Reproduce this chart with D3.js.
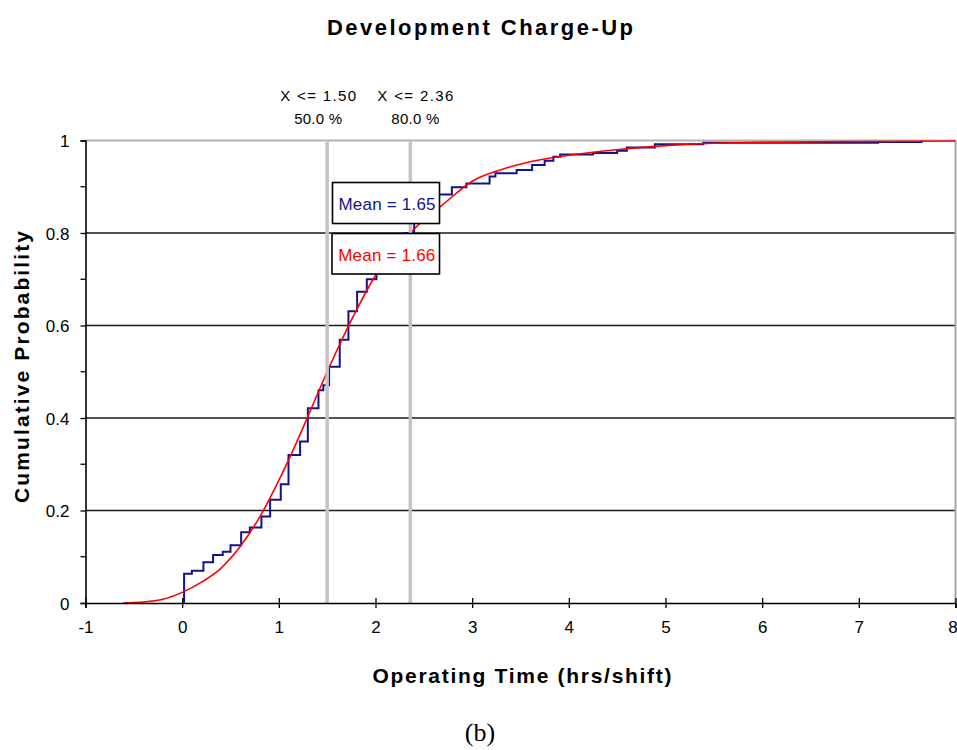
<!DOCTYPE html>
<html>
<head>
<meta charset="utf-8">
<script src="https://cdn.jsdelivr.net/npm/d3@7"></script>
<style>
  html, body { margin: 0; padding: 0; background: #fff; }
  svg { display: block; }
  text { font-family: "Liberation Sans", Arial, sans-serif; }
  text.caption { font-family: "Liberation Serif", "Times New Roman", serif; }
</style>
</head>
<body>
<svg id="chart" width="957" height="750"></svg>
<script>
// ---------------- data ----------------
const chartTitle = "Development Charge-Up";
const xAxisTitle = "Operating Time (hrs/shift)";
const yAxisTitle = "Cumulative Probability";
const caption = "(b)";

const xTicks = [-1, 0, 1, 2, 3, 4, 5, 6, 7, 8];
const xTickLabels = ["-1", "0", "1", "2", "3", "4", "5", "6", "7", "8"];
const yTicks = [0, 0.2, 0.4, 0.6, 0.8, 1];
const yTickLabels = ["0", "0.2", "0.4", "0.6", "0.8", "1"];
const yMinorTicks = [0.1, 0.3, 0.5, 0.7, 0.9];

// empirical (step) cumulative distribution: value reached at x
const empiricalX = [0.02, 0.02, 0.10, 0.22, 0.32, 0.42, 0.50, 0.61, 0.70, 0.82, 0.91, 1.02, 1.10, 1.22, 1.30,
  1.41, 1.46, 1.52, 1.63, 1.72, 1.81, 1.91, 2.01, 2.10, 2.19, 2.30, 2.40, 2.50, 2.62, 2.79, 2.94,
  3.18, 3.24, 3.46, 3.62, 3.75, 3.84, 3.91, 4.25, 4.50, 4.60, 4.89, 5.39, 7.20, 7.65];
const empiricalP = [0, 0.063, 0.070, 0.088, 0.104, 0.111, 0.125, 0.153, 0.163, 0.187, 0.223, 0.257, 0.320, 0.349, 0.421,
  0.460, 0.471, 0.511, 0.569, 0.631, 0.673, 0.700, 0.713, 0.735, 0.760, 0.800, 0.830, 0.855, 0.883, 0.899, 0.907,
  0.922, 0.929, 0.936, 0.947, 0.956, 0.965, 0.970, 0.973, 0.978, 0.985, 0.992, 0.995, 0.997, 1.0];

// fitted distribution (smooth red curve)
const fittedX = [-0.61, -0.4, -0.2, 0.0, 0.2, 0.4, 0.6, 0.8, 1.0, 1.2, 1.4, 1.5, 1.6, 1.8, 2.0, 2.2, 2.36,
  2.5, 2.7, 3.0, 3.3, 3.6, 4.0, 4.5, 5.0, 5.5, 6.0, 7.0, 8.0];
const fittedP = [0, 0.002, 0.008, 0.023, 0.045, 0.075, 0.122, 0.185, 0.265, 0.355, 0.452, 0.500, 0.546, 0.632, 0.708,
  0.765, 0.800, 0.829, 0.862, 0.912, 0.937, 0.954, 0.968, 0.980, 0.989, 0.994, 0.996, 0.998, 0.999];

const markerX = [1.50, 2.36];
const markerLabels = ["X <= 1.50", "X <= 2.36"];
const markerPercents = ["50.0 %", "80.0 %"];
const meanLabels = ["Mean = 1.65", "Mean = 1.66"];
const seriesColors = ["#12128a", "#ff0000"];

// ---------------- drawing ----------------
const svg = d3.select("#chart");
const x = d3.scaleLinear().domain([-1, 8]).range([85.5, 955.5]);
const y = d3.scaleLinear().domain([0, 1]).range([603, 140.5]);

// title
svg.append("text").attr("x", 480).attr("y", 35).attr("text-anchor", "middle")
  .attr("font-size", 22).attr("font-weight", "bold").attr("textLength", 306).attr("lengthAdjust", "spacing")
  .text(chartTitle);

// gridlines
svg.append("g").selectAll("line").data(yTicks.filter(d => d > 0 && d < 1)).join("line")
  .attr("x1", x(-1)).attr("x2", x(8)).attr("y1", d => y(d)).attr("y2", d => y(d))
  .attr("stroke", "#1a1a1a").attr("stroke-width", 1.4);

// top and right border (gray)
svg.append("line").attr("x1", x(-1)).attr("x2", x(8)).attr("y1", y(1)).attr("y2", y(1))
  .attr("stroke", "#b4b4b4").attr("stroke-width", 2);
svg.append("line").attr("x1", x(8)).attr("x2", x(8)).attr("y1", y(1)).attr("y2", y(0))
  .attr("stroke", "#a8a8a8").attr("stroke-width", 2);

// empirical step line
const stepLine = d3.line().x((d, i) => x(empiricalX[i])).y((d, i) => y(empiricalP[i])).curve(d3.curveStepAfter);
svg.append("path").datum(empiricalX).attr("d", stepLine)
  .attr("fill", "none").attr("stroke", seriesColors[0]).attr("stroke-width", 2);

// fitted curve
const fitLine = d3.line().x((d, i) => x(fittedX[i])).y((d, i) => y(fittedP[i])).curve(d3.curveMonotoneX);
svg.append("path").datum(fittedX).attr("d", fitLine)
  .attr("fill", "none").attr("stroke", seriesColors[1]).attr("stroke-width", 1.6);

// marker vertical lines
svg.append("g").selectAll("line").data(markerX).join("line")
  .attr("x1", d => x(d)).attr("x2", d => x(d)).attr("y1", y(1) + 1).attr("y2", y(0))
  .attr("stroke", "#c4c4c4").attr("stroke-width", 3.5);

// marker labels
const labelOffsets = [-9, 5];
svg.append("g").selectAll("text").data(markerLabels).join("text")
  .attr("x", (d, i) => x(markerX[i]) + labelOffsets[i]).attr("y", 101).attr("text-anchor", "middle")
  .attr("font-size", 15).attr("textLength", 76).attr("lengthAdjust", "spacing").text(d => d);
svg.append("g").selectAll("text").data(markerPercents).join("text")
  .attr("x", (d, i) => x(markerX[i]) + labelOffsets[i]).attr("y", 124).attr("text-anchor", "middle")
  .attr("font-size", 15).attr("textLength", 48).attr("lengthAdjust", "spacing").text(d => d);

// y axis
const yAxis = d3.axisLeft(y).tickValues(yTicks).tickSize(5).tickPadding(11)
  .tickFormat((d, i) => yTickLabels[i]);
const gy = svg.append("g").attr("transform", `translate(${x(-1)},0)`).call(yAxis);
gy.select(".domain").attr("stroke", "#000").attr("stroke-width", 1.6);
gy.selectAll(".tick line").attr("stroke", "#000").attr("stroke-width", 1.3);
gy.selectAll(".tick text").attr("font-size", 17).attr("fill", "#000").attr("dy", "0.36em");
svg.append("g").selectAll("line").data(yMinorTicks).join("line")
  .attr("x1", x(-1) - 5).attr("x2", x(-1)).attr("y1", d => y(d)).attr("y2", d => y(d))
  .attr("stroke", "#000").attr("stroke-width", 1.3);

// x axis
const xAxis = d3.axisBottom(x).tickValues(xTicks).tickSize(5).tickPadding(13)
  .tickFormat((d, i) => xTickLabels[i]);
const gx = svg.append("g").attr("transform", `translate(0,${y(0)})`).call(xAxis);
gx.select(".domain").attr("stroke", "#000").attr("stroke-width", 1.6);
gx.selectAll(".tick line").attr("y1", -5).attr("stroke", "#000").attr("stroke-width", 1.3);
gx.selectAll(".tick text").attr("font-size", 17).attr("fill", "#000");
gx.selectAll(".tick text").filter((d, i) => i === xTicks.length - 1).attr("dx", -3);

// mean boxes
const boxes = [{ x: 332.5, y: 182.5, w: 107, h: 41 }, { x: 332, y: 233.5, w: 107.5, h: 40.5 }];
meanLabels.forEach((lab, i) => {
  const b = boxes[i];
  svg.append("rect").attr("x", b.x).attr("y", b.y).attr("width", b.w).attr("height", b.h)
    .attr("fill", "#fff").attr("stroke", "#000").attr("stroke-width", 1.6);
  svg.append("text").attr("x", b.x + b.w / 2 + 1).attr("y", b.y + 27).attr("text-anchor", "middle")
    .attr("font-size", 17).attr("fill", seriesColors[i]).attr("textLength", 97).attr("lengthAdjust", "spacing")
    .text(lab);
});

// axis titles
svg.append("text").attr("transform", "translate(29,367) rotate(-90)").attr("text-anchor", "middle")
  .attr("font-size", 21).attr("font-weight", "bold").attr("textLength", 272).attr("lengthAdjust", "spacing")
  .text(yAxisTitle);
svg.append("text").attr("x", 522).attr("y", 683).attr("text-anchor", "middle")
  .attr("font-size", 21).attr("font-weight", "bold").attr("textLength", 299).attr("lengthAdjust", "spacing")
  .text(xAxisTitle);

// caption
svg.append("text").attr("class", "caption").attr("x", 480).attr("y", 741).attr("text-anchor", "middle")
  .attr("font-size", 26)
  .text(caption);
</script>
</body>
</html>
